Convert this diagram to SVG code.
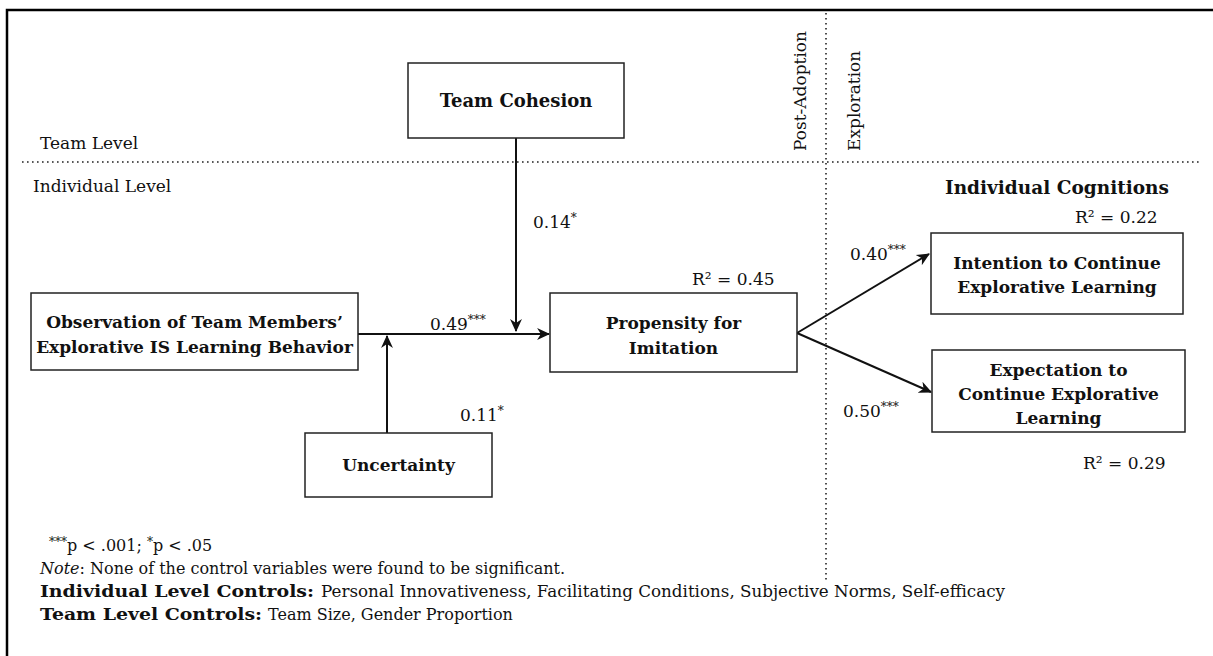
<svg xmlns="http://www.w3.org/2000/svg" width="1213" height="656" viewBox="0 0 1213 656">
  <style>
    .lbl { font-family: "DejaVu Serif", "Liberation Serif", serif; font-size: 17px; fill: #111; }
    .box-text { font-family: "DejaVu Serif", "Liberation Serif", serif; font-size: 17px; font-weight: bold; fill: #111; text-anchor: middle; }
    .box { fill: #fff; stroke: #222; stroke-width: 1.5; }
    .conn { stroke: #111; stroke-width: 2; fill: none; }
    .dots { stroke: #222; stroke-width: 1.6; stroke-dasharray: 1.6 3.4; fill: none; }
    .note { font-family: "DejaVu Serif", "Liberation Serif", serif; font-size: 16px; fill: #111; }
    .sup { font-size: 12px; }
  </style>
  <defs>
    <marker id="arrow" viewBox="0 0 12 12" refX="11" refY="6" markerWidth="13" markerHeight="13" markerUnits="userSpaceOnUse" orient="auto">
      <path d="M0,0.5 L12,6 L0,11.5 L3.5,6 z" fill="#111"/>
    </marker>
  </defs>

  <rect width="1213" height="656" fill="#fff"/>

  <!-- outer frame (top and left edges) -->
  <path d="M7,656 V10 H1213" fill="none" stroke="#000" stroke-width="2.5"/>

  <!-- level separators -->
  <g id="separators">
    <line class="dots" x1="22" y1="162" x2="1202" y2="162"/>
    <line class="dots" x1="826" y1="13" x2="826" y2="582"/>
    <text class="lbl" x="40" y="149">Team Level</text>
    <text class="lbl" x="33" y="192">Individual Level</text>
    <text class="lbl" transform="translate(806,151) rotate(-90)">Post-Adoption</text>
    <text class="lbl" transform="translate(860,151) rotate(-90)">Exploration</text>
  </g>

  <!-- connectors -->
  <g id="connectors">
    <line class="conn" x1="358" y1="334" x2="549" y2="334" marker-end="url(#arrow)"/>
    <line class="conn" x1="516" y1="138" x2="516" y2="331" marker-end="url(#arrow)"/>
    <line class="conn" x1="387" y1="433" x2="387" y2="336" marker-end="url(#arrow)"/>
    <line class="conn" x1="797" y1="333" x2="929" y2="254" marker-end="url(#arrow)"/>
    <line class="conn" x1="797" y1="333" x2="931" y2="392" marker-end="url(#arrow)"/>
  </g>

  <!-- path coefficients -->
  <g id="coefficients">
    <text class="lbl" x="533" y="228">0.14<tspan class="sup" dy="-6">*</tspan></text>
    <text class="lbl" x="430" y="330">0.49<tspan class="sup" dy="-6">***</tspan></text>
    <text class="lbl" x="460" y="421">0.11<tspan class="sup" dy="-6">*</tspan></text>
    <text class="lbl" x="850" y="260">0.40<tspan class="sup" dy="-6">***</tspan></text>
    <text class="lbl" x="843" y="417">0.50<tspan class="sup" dy="-6">***</tspan></text>
    <text class="lbl" x="692" y="285">R² = 0.45</text>
    <text class="lbl" x="1075" y="223">R² = 0.22</text>
    <text class="lbl" x="1083" y="469">R² = 0.29</text>
  </g>

  <g id="team-cohesion">
    <rect class="box" x="408" y="63" width="216" height="75"/>
    <text class="box-text" x="516" y="107" style="font-size:18px">Team Cohesion</text>
  </g>

  <g id="observation">
    <rect class="box" x="31" y="293" width="327" height="77"/>
    <text class="box-text" x="194.5" y="328">Observation of Team Members’</text>
    <text class="box-text" x="194.5" y="353">Explorative IS Learning Behavior</text>
  </g>

  <g id="uncertainty">
    <rect class="box" x="305" y="433" width="187" height="64"/>
    <text class="box-text" x="398.5" y="471">Uncertainty</text>
  </g>

  <g id="propensity">
    <rect class="box" x="550" y="293" width="247" height="79"/>
    <text class="box-text" x="673.5" y="329">Propensity for</text>
    <text class="box-text" x="673.5" y="354">Imitation</text>
  </g>

  <g id="individual-cognitions">
    <text class="box-text" x="1057" y="194" style="font-size:18.5px">Individual Cognitions</text>
  </g>

  <g id="intention">
    <rect class="box" x="931" y="233" width="252" height="81"/>
    <text class="box-text" x="1057" y="269">Intention to Continue</text>
    <text class="box-text" x="1057" y="293">Explorative Learning</text>
  </g>

  <g id="expectation">
    <rect class="box" x="932" y="350" width="253" height="82"/>
    <text class="box-text" x="1058.5" y="376">Expectation to</text>
    <text class="box-text" x="1058.5" y="400">Continue Explorative</text>
    <text class="box-text" x="1058.5" y="424">Learning</text>
  </g>

  <!-- footnotes -->
  <g id="notes">
    <text class="note" x="49" y="551"><tspan class="sup" dy="-5">***</tspan><tspan dy="5">p &lt; .001; </tspan><tspan class="sup" dy="-5">*</tspan><tspan dy="5">p &lt; .05</tspan></text>
    <text class="note" x="40" y="574"><tspan font-style="italic">Note</tspan>: None of the control variables were found to be significant.</text>
    <text class="note" x="40" y="597" font-weight="bold" textLength="274" lengthAdjust="spacingAndGlyphs">Individual Level Controls:</text>
    <text class="note" x="321" y="597" textLength="684" lengthAdjust="spacingAndGlyphs">Personal Innovativeness, Facilitating Conditions, Subjective Norms, Self-efficacy</text>
    <text class="note" x="40" y="620" font-weight="bold" textLength="222" lengthAdjust="spacingAndGlyphs">Team Level Controls:</text>
    <text class="note" x="268" y="620">Team Size, Gender Proportion</text>
  </g>
</svg>
